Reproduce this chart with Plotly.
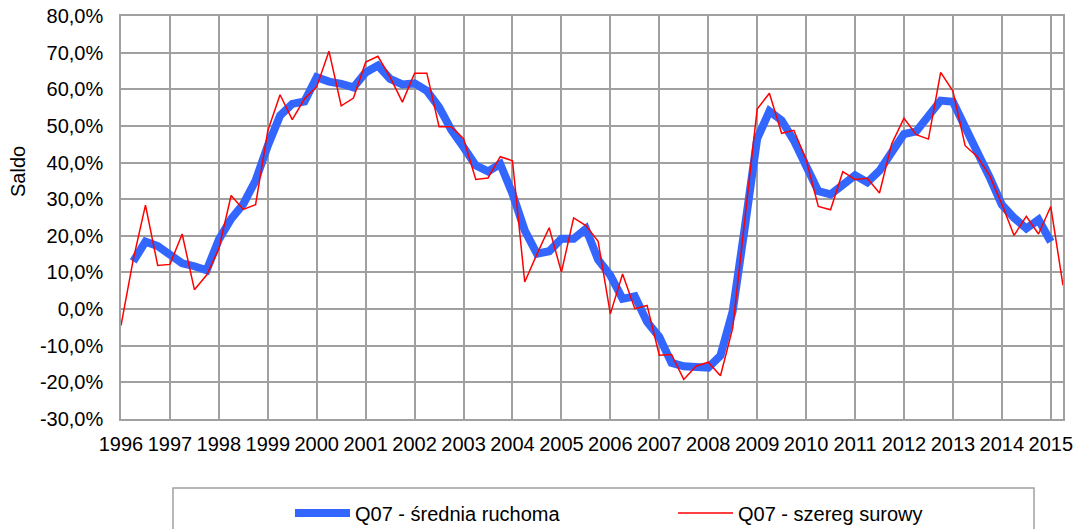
import plotly.graph_objects as go

years = list(range(1996, 2016))
quarters = [f"{y}Q{q}" for y in range(1996, 2016) for q in range(1, 5)][:78]

raw = [-4.5, 13.5, 28.4, 11.9, 12.2, 20.5, 5.3, 9.3, 16.5, 31.0,
       27.2, 28.5, 48.7, 58.5, 51.7, 57.4, 60.7, 70.4, 55.5, 57.6,
       67.4, 69.0, 63.3, 56.5, 64.4, 64.4, 49.8, 49.8, 46.5, 35.4,
       35.8, 41.6, 40.5, 7.4, 15.0, 22.2, 10.1, 24.9, 22.8, 18.5,
       -1.3, 9.6, 0.1, 1.0, -12.6, -12.4, -19.2, -15.6, -14.5, -18.2,
       -5.2, 24.5, 54.6, 58.9, 48.0, 48.8, 40.8, 28.0, 27.1, 37.5,
       35.4, 35.7, 31.7, 45.1, 52.1, 47.6, 46.4, 64.6, 59.5, 44.6,
       41.6, 36.5, 28.7, 20.1, 25.3, 20.5, 28.0, 6.5]

moving_avg = [None, 13.0, 18.4, 17.2, 14.8, 12.5, 11.7, 10.6, 19.0, 24.6,
              28.7, 35.1, 44.6, 52.8, 56.0, 56.7, 63.3, 62.1, 61.5, 60.5,
              64.6, 66.5, 62.8, 61.3, 61.6, 59.6, 55.1, 48.9, 44.2, 39.2,
              37.6, 39.6, 31.5, 21.5, 15.1, 15.8, 19.2, 19.2, 21.9, 13.5,
              9.2, 2.8, 3.5, -3.5, -7.6, -14.7, -15.6, -16.0, -16.0, -12.7,
              -0.6, 22.5, 46.5, 54.0, 51.5, 46.0, 39.4, 32.2, 31.3, 33.7,
              36.5, 34.6, 37.8, 42.8, 47.8, 48.5, 52.8, 56.9, 56.6, 49.2,
              42.8, 36.0, 28.5, 24.9, 22.0, 24.4, 18.4, None]

y_ticks = [-30, -20, -10, 0, 10, 20, 30, 40, 50, 60, 70, 80]
y_labels = [f"{v},0%" for v in y_ticks]

x_pos = list(range(len(quarters)))
x_tickvals = [i for i, q in enumerate(quarters) if q.endswith("Q1")]
x_ticktext = [q[:4] for q in quarters if q.endswith("Q1")]

FONT = "Liberation Sans, Arial, sans-serif"
GRID = "#a0a0a0"

# the page body margin is removed (post_script), so figure pixel = window pixel
W, H = 1082, 529
L, T = 121, 16
R = W - 1063
B = H - 419
PW = W - L - R
PH = H - T - B


def px(xw):
    return (xw - L) / PW


def py(yw):
    return (H - B - yw) / PH


fig = go.Figure()
fig.add_trace(go.Scatter(
    x=x_pos, y=moving_avg, mode="lines", name="Q07 - średnia ruchoma",
    line=dict(color="#3366FF", width=8), connectgaps=False,
    hovertext=quarters))
fig.add_trace(go.Scatter(
    x=x_pos, y=raw, mode="lines", name="Q07 - szereg surowy",
    line=dict(color="#FF0000", width=1.5), hovertext=quarters))

fig.update_layout(
    width=W, height=H,
    margin=dict(l=L, r=R, t=T, b=B, autoexpand=False),
    paper_bgcolor="white", plot_bgcolor="white",
    font=dict(family=FONT, size=20, color="black"),
    showlegend=True,
    legend=dict(orientation="h", x=px(290), y=py(513),
                xanchor="left", yanchor="middle",
                font=dict(family=FONT, size=20, color="black"),
                bgcolor="rgba(0,0,0,0)", itemwidth=55, entrywidth=313,
                traceorder="normal"),
    shapes=[dict(type="rect", xref="paper", yref="paper",
                 x0=px(173), x1=px(1034), y0=py(545), y1=py(488),
                 line=dict(color="#a0a0a0", width=1.5), layer="below")],
    annotations=[dict(text="Saldo", xref="paper", yref="paper",
                      x=px(18), y=py(172), textangle=-90,
                      showarrow=False, xanchor="center", yanchor="middle",
                      font=dict(family=FONT, size=20, color="black"))],
)
fig.update_xaxes(range=[0, 77], tickvals=x_tickvals, ticktext=x_ticktext,
                 showgrid=True, gridcolor=GRID, gridwidth=1.5,
                 showline=True, linecolor=GRID, linewidth=1.5, mirror=True,
                 ticks="outside", ticklen=6, tickcolor="rgba(0,0,0,0)",
                 tickangle=0, zeroline=False, ticklabeloverflow="allow")
fig.update_yaxes(range=[-30, 80], tickvals=y_ticks, ticktext=y_labels,
                 showgrid=True, gridcolor=GRID, gridwidth=1.5,
                 showline=True, linecolor=GRID, linewidth=1.5, mirror=True,
                 ticks="outside", ticklen=12, tickcolor="rgba(0,0,0,0)",
                 zeroline=False, ticklabeloverflow="allow")

fig.write_html(
    "out.html",
    config={"displayModeBar": False},
    post_script="document.body.style.margin='0';document.body.style.overflow='hidden';",
)
